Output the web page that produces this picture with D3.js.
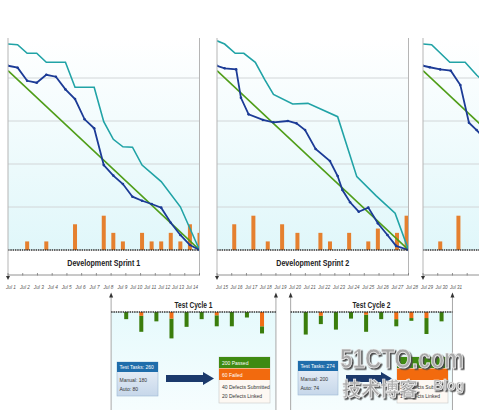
<!DOCTYPE html>
<html><head><meta charset="utf-8">
<script src="https://cdn.jsdelivr.net/npm/d3@7"></script>
<style>body{margin:0;background:#fff}svg{display:block}</style>
</head><body>
<svg id="c" width="479" height="412"></svg>
<script>
// ---------------- DATA ----------------
const sprintNames = ["Development Sprint 1", "Development Sprint 2", ""];
const dayLabels1 = ["Jul 1","Jul 2","Jul 3","Jul 4","Jul 5","Jul 6","Jul 7","Jul 8","Jul 9","Jul 10","Jul 11","Jul 12","Jul 13","Jul 14"];
const dayLabels2 = ["Jul 15","Jul 16","Jul 17","Jul 18","Jul 19","Jul 20","Jul 21","Jul 22","Jul 23","Jul 24","Jul 25","Jul 26","Jul 27","Jul 28"];
const dayLabels3 = ["Jul 29","Jul 30","Jul 31"];
const gridValues = [20, 40, 60, 80];
const idealStart = [83.4, 83.4, 83.4];

// sprint 1 (x = sample index 0..20)
const blue1Idx = [0,1,2,3,4,5,6,7,8,9,10,11,12,13,14,15,16,17,18,19,20];
const blue1 = [85.7,84.8,78.7,77.8,81.5,80.6,74.7,70.2,60.8,56.6,39.5,34.6,30.7,24.8,22.9,21.4,19.7,12.7,7,2.3,0];
const teal1Idx = [0,1,2,3,4,6,7,9,10,11,12,13,14,16,18,20];
const teal1 = [95.8,95.5,91.5,91.5,87.3,87.3,75.7,75.7,59.7,51.5,48,47.8,39.5,31.8,20.1,0];
const bars1Idx = [2,4,7,10,11,12,14,15,16,17,18,19,20];
const bars1 = [1,1,3,4,2,1,2,1,1,2,1,3,2];

// sprint 2
const blue2Idx = [0,0.8,2,2.5,3.3,4.8,5.9,7.4,8.3,9.2,10.3,11.8,12.6,13.1,13.9,14.8,15.8,16.8,17.8,18.7,20];
const blue2 = [85.7,84.5,84,70.8,63.1,60.5,59.4,60,58.9,55.8,47,41.4,34.4,27.9,22.2,17.8,19.7,12.4,7,1.9,0];
const teal2Idx = [0,0.8,1.9,2.8,4,5,5.9,7.9,9.5,12.6,14.6,16.6,18.6,20];
const teal2 = [97.3,95.8,91.5,91.5,87.3,79.1,72.4,67.9,68.2,62,34.1,25.3,17.1,0];
const bars2Idx = [1.8,3.8,5.3,6.8,8.4,10.8,11.8,13.8,15.8,16.8,18.8,19.8];
const bars2 = [3,4,1,3,2,2,1,2,1,2.5,2,4];

// sprint 3 (visible part)
const blue3Idx = [0,0.7,1.8,2.9,3.9,4.8,5.6,6.4];
const blue3 = [85.7,85,84,83.4,76.7,59.2,55.8,52];
const teal3Idx = [0,0.9,2.8,4.4,5.6,6.4];
const teal3 = [95.8,95.5,87.3,87.3,81.4,78];
const bars3Idx = [1.8,3.7];
const bars3 = [1,4];

// test cycles
const cycleNames = ["Test Cycle 1", "Test Cycle 2"];
const cycleStartDay = ["Jul 8", "Jul 20"];
const cycleEndDay = ["Jul 19", "Jul 31"];
const passed1 = [13,29,17,36,27,13,20,26,10,13];
const failed1 = [0,7,0,12,0,0,6,0,0,26];
const passed2 = [41,15,32,12,31,13,13,5,29,17];
const failed2 = [0,7,0,0,5,0,13,11,11,0];
const taskText1 = ["Test Tasks: 260", "Manual: 180", "Auto: 80"];
const taskText2 = ["Test Tasks: 274", "Manual: 200", "Auto: 74"];
const resultText1 = ["200 Passed", "60 Failed", "40 Defects Submitted", "20 Defects Linked"];
const resultText2 = ["", "", "30 Defects Submitted", "15 Defects Linked"];
const watermark = ["51CTO.com", "技术博客", "Blog"];

// ---------------- DRAW ----------------
const svg = d3.select("#c");
const defs = svg.append("defs");
const bg = defs.append("linearGradient").attr("id","bg").attr("x1",0).attr("y1",0).attr("x2",0).attr("y2",1);
bg.append("stop").attr("offset","0%").attr("stop-color","#ffffff");
bg.append("stop").attr("offset","100%").attr("stop-color","#e0f7fa");
const tbg = defs.append("linearGradient").attr("id","tbg").attr("x1",0).attr("y1",0).attr("x2",0).attr("y2",1);
tbg.append("stop").attr("offset","0%").attr("stop-color","#e6fafc");
tbg.append("stop").attr("offset","100%").attr("stop-color","#f6fdfe");
const boxg = defs.append("linearGradient").attr("id","boxg").attr("x1",0).attr("y1",0).attr("x2",0).attr("y2",1);
boxg.append("stop").attr("offset","0%").attr("stop-color","#eef3f9");
boxg.append("stop").attr("offset","100%").attr("stop-color","#c6d7ea");
const sh = defs.append("filter").attr("id","wmsh").attr("x","-10%").attr("y","-20%").attr("width","130%").attr("height","150%");
sh.append("feDropShadow").attr("dx",1.6).attr("dy",1.6).attr("stdDeviation",0.3).attr("flood-color","#4a4a4a").attr("flood-opacity",1);

const FONT = "'Liberation Sans Narrow','Liberation Sans',Arial,sans-serif";
const TOP = 38, BASE = 250, AXIS = 275;
const yB = d3.scaleLinear().domain([0,100]).range([BASE,35]);
const yBar = d3.scaleLinear().domain([0,4]).range([BASE,215.7]);

const sprints = [
  {left:8, right:199.5, name:sprintNames[0], labels:dayLabels1, lr:[11,192], blueIdx:blue1Idx, blue:blue1, tealIdx:teal1Idx, teal:teal1, barsIdx:bars1Idx, bars:bars1, ideal:idealStart[0]},
  {left:217, right:408.5, name:sprintNames[1], labels:dayLabels2, lr:[222,412], blueIdx:blue2Idx, blue:blue2, tealIdx:teal2Idx, teal:teal2, barsIdx:bars2Idx, bars:bars2, ideal:idealStart[1]},
  {left:423, right:614.5, name:sprintNames[2], labels:dayLabels3, lr:[427,456], blueIdx:blue3Idx, blue:blue3, tealIdx:teal3Idx, teal:teal3, barsIdx:bars3Idx, bars:bars3, ideal:idealStart[2]}
];

const allDays = dayLabels1.concat(dayLabels2, dayLabels3);
function dayX(lbl){
  const k = allDays.indexOf(lbl);
  const s = sprints[Math.floor(k/14)];
  const t = d3.scaleLinear().domain([0,13]).range([s.left, s.right]);
  return t(k % 14);
}

sprints.forEach((s,si) => {
  const g = svg.append("g");
  const xS = d3.scaleLinear().domain([0,20]).range([s.left, s.right]);
  const cid = "clip"+si;
  defs.append("clipPath").attr("id",cid).append("rect")
    .attr("x",s.left).attr("y",TOP).attr("width",s.right-s.left).attr("height",BASE-TOP+2);
  g.append("rect").attr("x",s.left).attr("y",TOP).attr("width",s.right-s.left).attr("height",BASE-TOP).attr("fill","url(#bg)");
  g.selectAll(".grid").data(gridValues).enter().append("line")
    .attr("x1",s.left).attr("x2",s.right).attr("y1",d=>yB(d)).attr("y2",d=>yB(d))
    .attr("stroke","#d2d6d8").attr("stroke-width",1);
  const cg = g.append("g").attr("clip-path",`url(#${cid})`);
  cg.selectAll(".bar").data(s.bars).enter().append("rect")
    .attr("x",(d,i)=>xS(s.barsIdx[i])-2).attr("width",4)
    .attr("y",d=>yBar(d)).attr("height",d=>BASE-yBar(d))
    .attr("fill","#e5802f");
  cg.append("line").attr("x1",xS(0)).attr("y1",yB(s.ideal)).attr("x2",xS(20)).attr("y2",yB(0))
    .attr("stroke","#4f9d18").attr("stroke-width",1.6);
  const tealPts = s.teal.map((v,i)=>[xS(s.tealIdx[i]), yB(v)]);
  cg.append("path").attr("d",d3.line()(tealPts)).attr("fill","none").attr("stroke","#21a3a6").attr("stroke-width",1.6);
  const bluePts = s.blue.map((v,i)=>[xS(s.blueIdx[i]), yB(v)]);
  cg.append("path").attr("d",d3.line()(bluePts)).attr("fill","none").attr("stroke","#1c3b96").attr("stroke-width",1.8);
  cg.selectAll(".dot").data(bluePts).enter().append("circle")
    .attr("cx",d=>d[0]).attr("cy",d=>d[1]).attr("r",1.3).attr("fill","#1c3b96");
  g.append("line").attr("x1",s.left).attr("x2",s.right).attr("y1",BASE).attr("y2",BASE)
    .attr("stroke","#333").attr("stroke-width",1.5).attr("stroke-dasharray","1.5,0.8");
  g.append("line").attr("x1",s.left).attr("x2",s.left).attr("y1",TOP).attr("y2",AXIS+1)
    .attr("stroke","#b5b5b5").attr("stroke-width",1);
  g.append("line").attr("x1",s.right).attr("x2",s.right).attr("y1",TOP).attr("y2",AXIS)
    .attr("stroke","#b5b5b5").attr("stroke-width",1);
  g.append("path").attr("d",`M${s.left-2},${AXIS+1}L${s.left+2},${AXIS+1}L${s.left},${AXIS+5}Z`).attr("fill","#333");
  if (s.name) {
    g.append("text").attr("x",(s.left+s.right)/2).attr("y",265.5).attr("text-anchor","middle")
      .attr("font-family",FONT).attr("font-weight","bold").attr("font-size",9).attr("fill","#222")
      .attr("textLength",73).attr("lengthAdjust","spacingAndGlyphs").text(s.name);
  }
  const tx = d3.scaleLinear().domain([0,13]).range([s.left, s.right]);
  g.append("line").attr("x1",s.left).attr("x2",s.right).attr("y1",AXIS).attr("y2",AXIS)
    .attr("stroke","#777").attr("stroke-width",0.8);
  g.selectAll(".tk").data(d3.range(14)).enter().append("line")
    .attr("x1",d=>tx(d)).attr("x2",d=>tx(d)).attr("y1",AXIS-2).attr("y2",AXIS+0.5)
    .attr("stroke","#777").attr("stroke-width",0.8);
  const lx = d3.scalePoint().domain(s.labels).range(s.lr);
  g.selectAll(".dl").data(s.labels).enter().append("text")
    .attr("x",d=>lx(d)).attr("y",288.5).attr("text-anchor","middle")
    .attr("font-family",FONT).attr("font-style","italic").attr("font-size",5.6).attr("fill","#555")
    .attr("textLength",d=>d.length*2.0).attr("lengthAdjust","spacingAndGlyphs")
    .text(d=>d);
});

// ---------------- TEST CYCLES ----------------
const TB = 312, TBOT = 410;
const yT = d3.scaleLinear().domain([0,100]).range([0,55]);
const cycles = [
  {name:cycleNames[0], start:dayX(cycleStartDay[0]), end:dayX(cycleEndDay[0]), passed:passed1, failed:failed1, task:taskText1, res:resultText1, taskX:117, taskY:362, taskW:41, resX:219, resY:357},
  {name:cycleNames[1], start:dayX(cycleStartDay[1]), end:dayX(cycleEndDay[1]), passed:passed2, failed:failed2, task:taskText2, res:resultText2, taskX:298, taskY:361, taskW:40, resX:397, resY:357}
];
cycles.forEach(c => {
  const g = svg.append("g");
  g.append("rect").attr("x",c.start).attr("y",TB).attr("width",c.end-c.start).attr("height",TBOT-TB).attr("fill","url(#tbg)");
  [c.start, c.end].forEach(x => {
    g.append("line").attr("x1",x).attr("x2",x).attr("y1",296).attr("y2",TBOT).attr("stroke","#a8a8a8").attr("stroke-width",1);
    g.append("path").attr("d",`M${x},292.5L${x+2},297.5L${x-2},297.5Z`).attr("fill","#333");
  });
  g.append("text").attr("x",(c.start+c.end)/2).attr("y",307.5).attr("text-anchor","middle")
    .attr("font-family",FONT).attr("font-weight","bold").attr("font-size",9).attr("fill","#222")
    .attr("textLength",38).attr("lengthAdjust","spacingAndGlyphs").text(c.name);
  const bx = d3.scaleLinear().domain([0,11]).range([c.start, c.start+166]);
  c.passed.forEach((p,i) => {
    const f = c.failed[i];
    g.append("rect").attr("x",bx(i+1)-2).attr("width",4).attr("y",TB+yT(f)).attr("height",yT(p)).attr("fill","#3a7d0c");
    if (f>0) g.append("rect").attr("x",bx(i+1)-2).attr("width",4).attr("y",TB).attr("height",yT(f)).attr("fill","#f06d16");
  });
  g.append("line").attr("x1",c.start).attr("x2",c.end).attr("y1",TB).attr("y2",TB)
    .attr("stroke","#333").attr("stroke-width",1.3).attr("stroke-dasharray","1.5,0.8");
  g.append("rect").attr("x",c.taskX).attr("y",c.taskY).attr("width",c.taskW).attr("height",34)
    .attr("fill","url(#boxg)").attr("stroke","#9db8d4").attr("stroke-width",0.6);
  g.append("rect").attr("x",c.taskX).attr("y",c.taskY).attr("width",c.taskW).attr("height",10).attr("fill","#1f6dab");
  g.append("text").attr("x",c.taskX+2.5).attr("y",c.taskY+7).attr("font-family",FONT).attr("font-size",5)
    .attr("fill","#fff").text(c.task[0]);
  g.append("text").attr("x",c.taskX+2.5).attr("y",c.taskY+20).attr("font-family",FONT).attr("font-size",5)
    .attr("fill","#333").text(c.task[1]);
  g.append("text").attr("x",c.taskX+2.5).attr("y",c.taskY+29).attr("font-family",FONT).attr("font-size",5)
    .attr("fill","#333").text(c.task[2]);
  const ax0 = c.taskX + c.taskW + 8, ax1 = c.resX - 5, ay = 378.5;
  g.append("path").attr("d",`M${ax0},${ay-3.5}L${ax1-11},${ay-3.5}L${ax1-11},${ay-6.5}L${ax1},${ay}L${ax1-11},${ay+6.5}L${ax1-11},${ay+3.5}L${ax0},${ay+3.5}Z`)
    .attr("fill","#1b3a6c");
  g.append("rect").attr("x",c.resX).attr("y",c.resY).attr("width",51).attr("height",46)
    .attr("fill","#fdf8f3").attr("stroke","#c8c8c8").attr("stroke-width",0.6);
  g.append("rect").attr("x",c.resX).attr("y",c.resY).attr("width",51).attr("height",11).attr("fill","#3f8a12");
  g.append("rect").attr("x",c.resX).attr("y",c.resY+11.5).attr("width",51).attr("height",11.5).attr("fill","#f26a0e");
  const rows = [[8,"#fff"],[19.5,"#fff"],[32,"#333"],[41,"#333"]];
  c.res.forEach((t,i) => {
    if (!t) return;
    g.append("text").attr("x",c.resX+3).attr("y",c.resY+rows[i][0]).attr("font-family",FONT).attr("font-size",5)
      .attr("fill",rows[i][1]).text(t);
  });
});

// ---------------- WATERMARK ----------------
const wm = svg.append("g").attr("filter","url(#wmsh)");
function wmText(t, x, y, size, len){
  wm.append("text").attr("x",x).attr("y",y).attr("font-family","'Liberation Sans',Arial,'Noto Sans CJK SC',sans-serif")
    .attr("font-weight","bold").attr("font-size",size).attr("fill","#a9a9a9").attr("stroke","#f4f4f4").attr("stroke-width",0.7)
    .attr("textLength",len).attr("lengthAdjust","spacingAndGlyphs").text(t);
}
wmText(watermark[0], 340, 368, 27, 124);
wmText(watermark[1], 342, 396, 19, 76);
wmText(watermark[2], 433, 390, 14, 31);
</script>
</body></html>
